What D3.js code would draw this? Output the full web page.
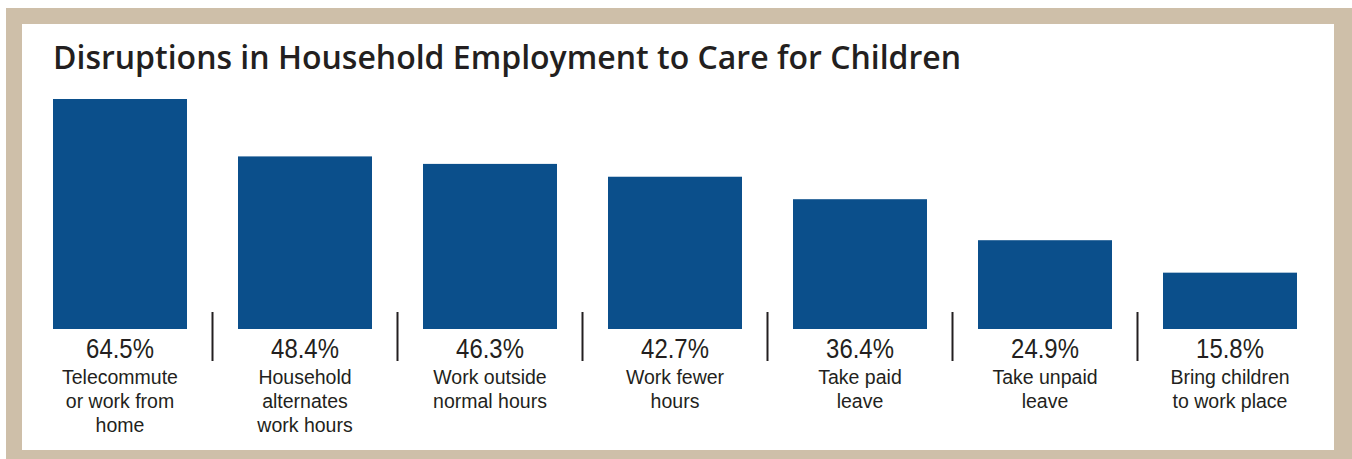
<!DOCTYPE html>
<html>
<head>
<meta charset="utf-8">
<script src="https://cdn.jsdelivr.net/npm/d3@7"></script>
<style>
  html, body { margin: 0; padding: 0; background: #ffffff; }
  svg { display: block; }
</style>
</head>
<body>
<svg id="chart" width="1352" height="459"></svg>
<script>
// Share of households using each arrangement to care for children
const categories = [
  ["Telecommute", "or work from", "home"],
  ["Household", "alternates", "work hours"],
  ["Work outside", "normal hours"],
  ["Work fewer", "hours"],
  ["Take paid", "leave"],
  ["Take unpaid", "leave"],
  ["Bring children", "to work place"]
];
const values = [64.5, 48.4, 46.3, 42.7, 36.4, 24.9, 15.8];
const valueLabels = ["64.5%", "48.4%", "46.3%", "42.7%", "36.4%", "24.9%", "15.8%"];
const title = "Disruptions in Household Employment to Care for Children";

const svg = d3.select("#chart");
const W = 1352, H = 459;

// Framed card
svg.append("rect").attr("x", 6).attr("y", 8).attr("width", W).attr("height", H)
  .attr("fill", "#cebfa9");
svg.append("rect").attr("x", 22).attr("y", 24).attr("width", 1312).attr("height", 426)
  .attr("fill", "#ffffff");

// Title
svg.append("text")
  .attr("x", 53).attr("y", 69)
  .attr("font-family", "'Open Sans', sans-serif")
  .attr("font-weight", 600)
  .attr("font-size", 32)
  .attr("fill", "#231f20")
  .text(title);

const idx = d3.range(values.length);

const x = d3.scaleBand()
  .domain(idx)
  .range([53, 1297])
  .paddingInner(0.2757)
  .paddingOuter(0);

const y = d3.scaleLinear()
  .domain([0, d3.max(values)])
  .range([329, 99]);

// Bars
svg.append("g").selectAll("rect")
  .data(idx)
  .join("rect")
  .attr("x", i => x(i))
  .attr("y", i => y(values[i]))
  .attr("width", x.bandwidth())
  .attr("height", i => y(0) - y(values[i]))
  .attr("fill", "#0b4f8b");

// Separators between category labels
const gap = x.step() - x.bandwidth();
svg.append("g").selectAll("line")
  .data(idx.slice(1))
  .join("line")
  .attr("x1", i => x(i) - gap / 2)
  .attr("x2", i => x(i) - gap / 2)
  .attr("y1", 312)
  .attr("y2", 361)
  .attr("stroke", "#231f20")
  .attr("stroke-width", 2);

// Value labels (slightly condensed)
svg.append("g").selectAll("text")
  .data(idx)
  .join("text")
  .attr("transform", i => `translate(${x(i) + x.bandwidth() / 2},358) scale(0.87,1)`)
  .attr("text-anchor", "middle")
  .attr("font-family", "'Liberation Sans', Arial, sans-serif")
  .attr("font-size", 27.5)
  .attr("fill", "#231f20")
  .text(i => valueLabels[i]);

// Category labels
const cg = svg.append("g").selectAll("text")
  .data(idx)
  .join("text")
  .attr("x", i => x(i) + x.bandwidth() / 2)
  .attr("y", 383.5)
  .attr("text-anchor", "middle")
  .attr("font-family", "'Liberation Sans', Arial, sans-serif")
  .attr("font-size", 19.5)
  .attr("fill", "#231f20");

cg.selectAll("tspan")
  .data(i => categories[i].map((t, k) => ({ t, k, cx: x(i) + x.bandwidth() / 2 })))
  .join("tspan")
  .attr("x", d => d.cx)
  .attr("dy", d => d.k === 0 ? 0 : 24)
  .text(d => d.t);
</script>
</body>
</html>
